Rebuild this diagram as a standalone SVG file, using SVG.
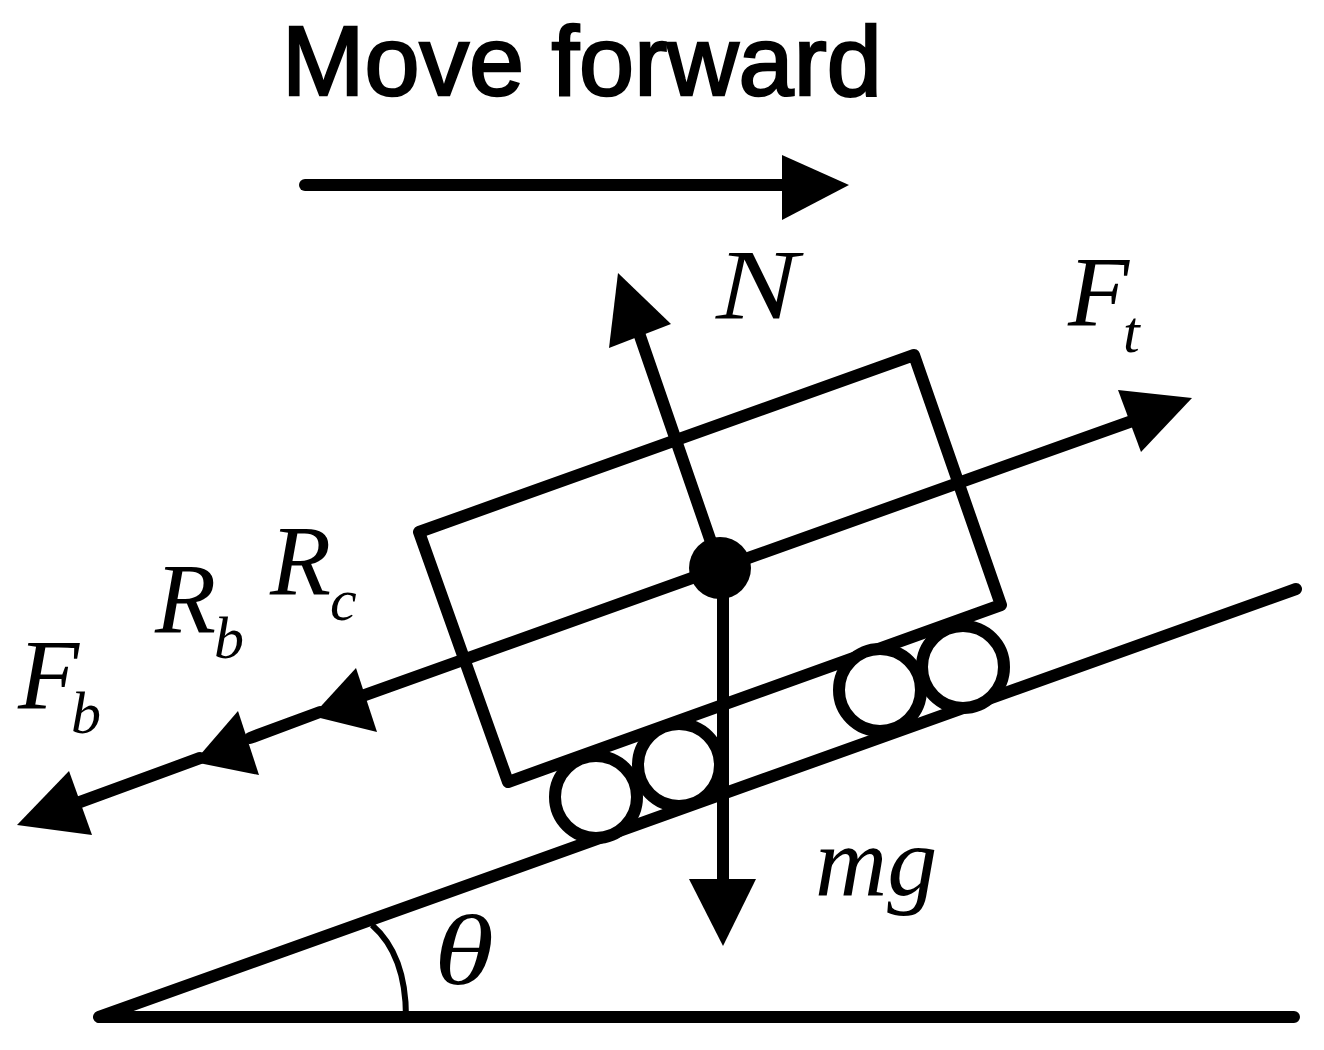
<svg xmlns="http://www.w3.org/2000/svg" width="1324" height="1050" viewBox="0 0 1324 1050">
<style>
.l{fill:none;stroke:#000;stroke-width:12;stroke-linecap:round;stroke-linejoin:round}
.a{fill:#000;stroke:none}
.w{fill:#fff;stroke:#000;stroke-width:12}
.m{font-family:"Liberation Serif",serif;font-style:italic;fill:#000;font-size:100px}
.s{font-family:"Liberation Serif",serif;font-style:italic;fill:#000;font-size:60px}
</style>
<rect width="1324" height="1050" fill="#fff"/>
<g id="ground"><path class="l" d="M99 1017H1294M99 1017L1296 589"/><path d="M372 925C395 945 406 975 406 1017" fill="none" stroke="#000" stroke-width="6"/></g>
<g id="cart"><path class="l" d="M914 355L419 532L508 782L1001 605Z"/></g>
<g id="rollers">
<circle class="w" cx="596" cy="797" r="41"/>
<circle class="w" cx="679" cy="765" r="41"/>
<circle class="w" cx="880" cy="690" r="41"/>
<circle class="w" cx="963" cy="667" r="41"/>
</g>
<g id="connectors">
<path class="l" d="M305 185H790"/><path class="a" d="M782 155L849 185L782 220Z"/>
<path class="l" d="M720 568L640 336"/><path class="a" d="M618 273L671 324L609 348Z"/>
<path class="l" d="M720 568L1135 420"/><path class="a" d="M1192 398L1141 452L1118 390Z"/>
<path class="l" d="M720 568L365 695"/><path class="a" d="M312 716L356 668L377 732Z"/>
<path class="l" d="M320 712L250 738"/><path class="a" d="M194 762L238 711L259 775Z"/>
<path class="l" d="M200 758L80 802"/><path class="a" d="M17 825L69 771L92 835Z"/>
<path class="l" d="M723 568V885"/><path class="a" d="M689 879H756L723 946Z"/>
</g>
<g id="center"><circle cx="720" cy="568" r="31" fill="#000"/></g>
<g id="labels">
<text x="282" y="95" font-family="Liberation Sans,sans-serif" font-size="99" fill="#000" stroke="#000" stroke-width="2.5">Move forward</text>
<text class="m" x="716" y="318" textLength="82" lengthAdjust="spacingAndGlyphs">N</text>
<text class="m" x="1068" y="325">F</text><text class="s" x="1123" y="352">t</text>
<text class="m" x="270" y="594">R</text><text class="s" x="330" y="620">c</text>
<text class="m" x="155" y="632">R</text><text class="s" x="214" y="658">b</text>
<text class="m" x="18" y="708">F</text><text class="s" x="71" y="733">b</text>
<text class="m" x="815" y="895">mg</text>
<text class="m" x="434" y="984" textLength="60" lengthAdjust="spacingAndGlyphs">θ</text>
</g>
</svg>
